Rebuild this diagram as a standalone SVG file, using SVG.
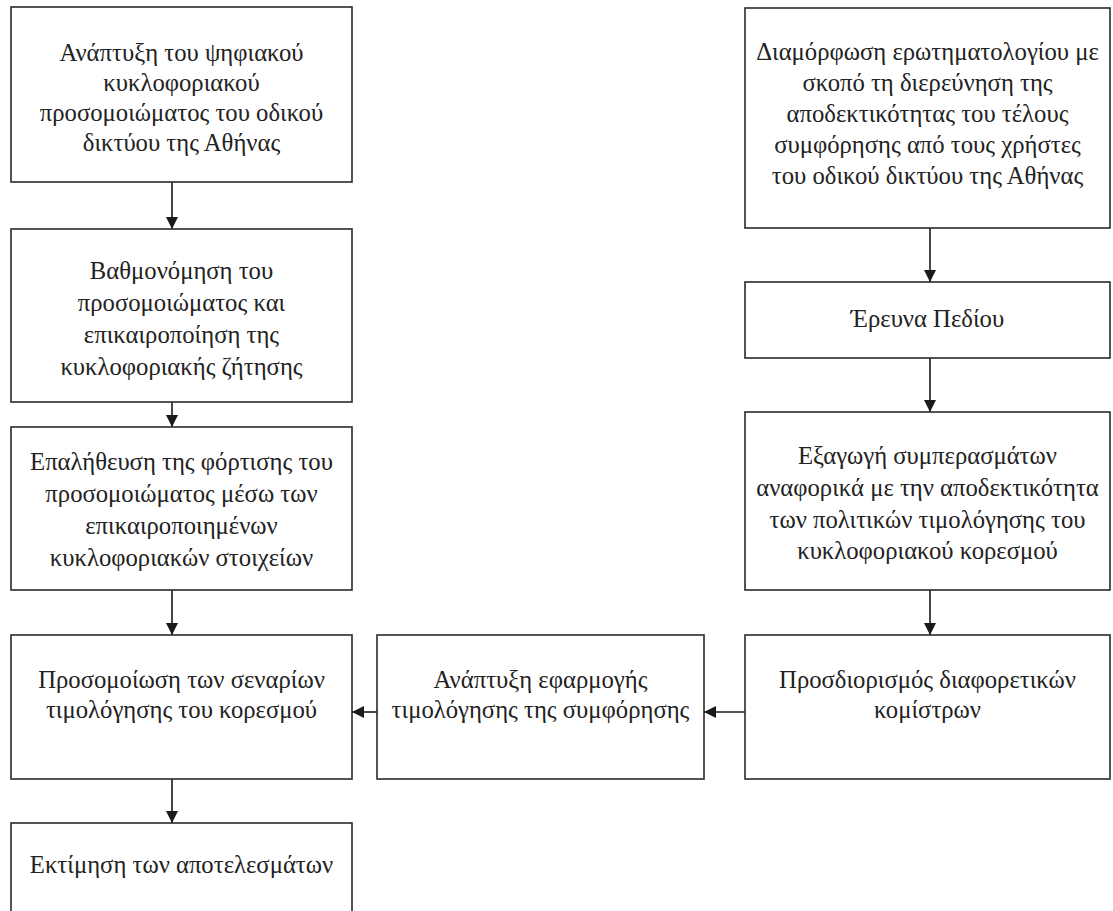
<svg xmlns="http://www.w3.org/2000/svg" width="1113" height="911" viewBox="0 0 1113 911">
<defs>
<marker id="ah" viewBox="0 0 10 12" refX="12" refY="6" markerWidth="12" markerHeight="12" markerUnits="userSpaceOnUse" orient="auto">
<path d="M0,0 L12,6 L0,12 Z" fill="#1a1a1a"/>
</marker>
<style>
.box{fill:#fff;stroke:#2a2a2a;stroke-width:1.6}
.t{font-family:'Liberation Serif', 'DejaVu Serif', serif;font-size:24.7px;fill:#222;text-anchor:middle}
.c{stroke:#1a1a1a;stroke-width:1.6;fill:none;marker-end:url(#ah)}
</style>
</defs>
<rect width="1113" height="911" fill="#fff"/>
<g id="connectors">
<line class="c" x1="172" y1="182" x2="172" y2="229"/>
<line class="c" x1="172" y1="402" x2="172" y2="427"/>
<line class="c" x1="172" y1="590" x2="172" y2="635"/>
<line class="c" x1="172" y1="779" x2="172" y2="823"/>
<line class="c" x1="930" y1="228" x2="930" y2="282"/>
<line class="c" x1="930" y1="358" x2="930" y2="412"/>
<line class="c" x1="930" y1="590" x2="930" y2="635"/>
<line class="c" x1="745" y1="712" x2="704" y2="712"/>
<line class="c" x1="377" y1="712" x2="352" y2="712"/>
</g>
<g id="n1"><rect class="box" x="11" y="7" width="341" height="175"/>
<text class="t"><tspan x="181.5" y="61">Ανάπτυξη του ψηφιακού</tspan><tspan x="181.5" y="91">κυκλοφοριακού</tspan><tspan x="181.5" y="121">προσομοιώματος του οδικού</tspan><tspan x="181.5" y="151">δικτύου της Αθήνας</tspan></text></g>
<g id="n2"><rect class="box" x="11" y="229" width="341" height="173"/>
<text class="t"><tspan x="181.5" y="279">Βαθμονόμηση του</tspan><tspan x="181.5" y="311">προσομοιώματος και</tspan><tspan x="181.5" y="343">επικαιροποίηση της</tspan><tspan x="181.5" y="375">κυκλοφοριακής ζήτησης</tspan></text></g>
<g id="n3"><rect class="box" x="11" y="427" width="341" height="163"/>
<text class="t"><tspan x="181.5" y="470">Επαλήθευση της φόρτισης του</tspan><tspan x="181.5" y="502">προσομοιώματος μέσω των</tspan><tspan x="181.5" y="534">επικαιροποιημένων</tspan><tspan x="181.5" y="566">κυκλοφοριακών στοιχείων</tspan></text></g>
<g id="n4"><rect class="box" x="11" y="635" width="341" height="144"/>
<text class="t"><tspan x="181.5" y="688">Προσομοίωση των σεναρίων</tspan><tspan x="181.5" y="718">τιμολόγησης του κορεσμού</tspan></text></g>
<g id="n5"><rect class="box" x="11" y="823" width="341" height="100"/>
<text class="t"><tspan x="181.5" y="873">Εκτίμηση των αποτελεσμάτων</tspan></text></g>
<g id="n6"><rect class="box" x="377" y="635" width="327" height="144"/>
<text class="t"><tspan x="540.5" y="688">Ανάπτυξη εφαρμογής</tspan><tspan x="540.5" y="718">τιμολόγησης της συμφόρησης</tspan></text></g>
<g id="n7"><rect class="box" x="745" y="8" width="365" height="220"/>
<text class="t"><tspan x="927.5" y="60">Διαμόρφωση ερωτηματολογίου με</tspan><tspan x="927.5" y="91">σκοπό τη διερεύνηση της</tspan><tspan x="927.5" y="122">αποδεκτικότητας του τέλους</tspan><tspan x="927.5" y="153">συμφόρησης από τους χρήστες</tspan><tspan x="927.5" y="184">του οδικού δικτύου της Αθήνας</tspan></text></g>
<g id="n8"><rect class="box" x="745" y="282" width="365" height="76"/>
<text class="t"><tspan x="927.5" y="327">Έρευνα Πεδίου</tspan></text></g>
<g id="n9"><rect class="box" x="745" y="412" width="365" height="178"/>
<text class="t"><tspan x="927.5" y="464">Εξαγωγή συμπερασμάτων</tspan><tspan x="927.5" y="496">αναφορικά με την αποδεκτικότητα</tspan><tspan x="927.5" y="528">των πολιτικών τιμολόγησης του</tspan><tspan x="927.5" y="559">κυκλοφοριακού κορεσμού</tspan></text></g>
<g id="n10"><rect class="box" x="745" y="635" width="365" height="144"/>
<text class="t"><tspan x="927.5" y="688">Προσδιορισμός διαφορετικών</tspan><tspan x="927.5" y="718">κομίστρων</tspan></text></g>
</svg>
